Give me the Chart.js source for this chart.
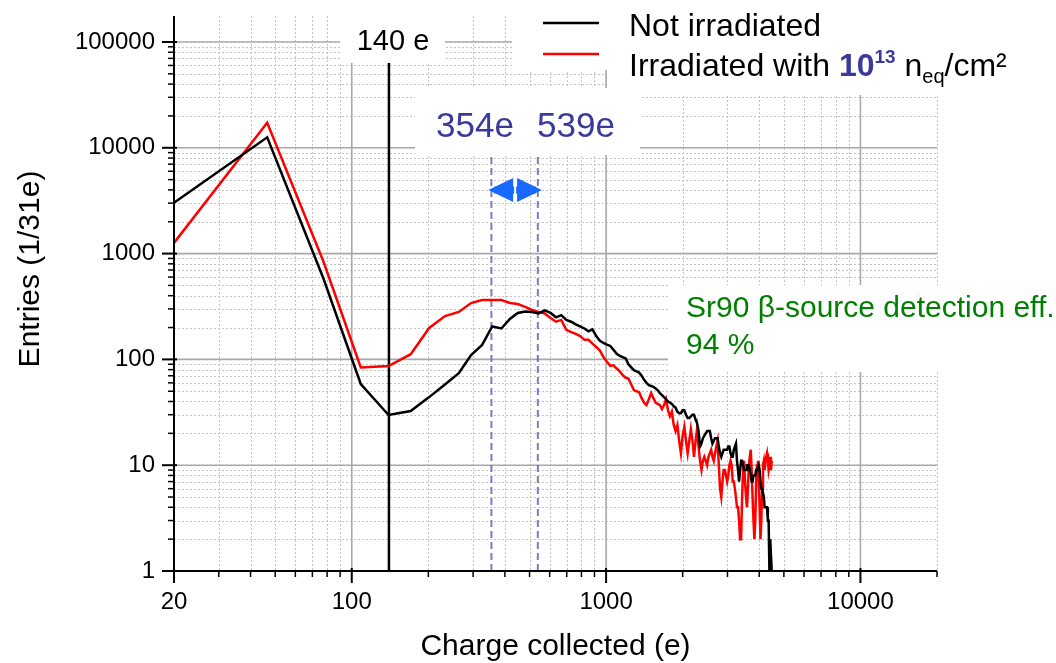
<!DOCTYPE html>
<html>
<head>
<meta charset="utf-8">
<title>Charge collected spectrum</title>
<script src="https://cdn.jsdelivr.net/npm/chart.js@4.4.1/dist/chart.umd.min.js"></script>
<style>
  body { margin: 0; background: #fff; }
  #wrap { width: 1056px; height: 663px; }
</style>
</head>
<body>
<div id="wrap"><canvas id="chart" width="1056" height="663"></canvas></div>
<script>
// ============================================
// Spectra, one value per 31 e bin (first bin centre 15.5 e)
// ============================================
const BIN_WIDTH = 31;

const notIrradiated = [
    1970, 12560, 575, 58.5, 29.8, 32.5, 44, 58, 74, 110,
    137, 205, 196, 241, 275, 284, 280, 272, 290, 275,
    250, 262, 236, 227, 214, 205, 196, 184, 192, 166,
    150, 143, 138, 134, 123, 113, 108, 105, 102, 90,
    84, 79, 77, 75, 70, 64, 60, 57, 56, 55,
    53, 51, 48, 46, 44, 42, 40, 39, 38, 36,
    35, 32, 31, 31, 33, 33, 30, 28, 28, 29,
    30, 30, 27, 25, 21, 15, 16, 18, 19, 20,
    21, 21, 21, 18, 16, 17, 18, 18, 18, 15,
    13, 12, 13, 14, 14, 14, 14, 15, 15, 13,
    12, 12, 14, 15, 16, 11, 9, 7, 9, 11,
    11, 10, 9, 9, 9, 10, 10, 10, 9, 8,
    7, 7, 8, 8, 8, 9, 9, 9, 10, 9,
    7, 6, 6, 6, 5, 4, 4, 4, 4, 3,
    3, 1, 2, 2, 1
];

const irradiated = [
    573, 17260, 832, 84, 86.5, 112, 198, 257, 281, 341,
    364, 364, 364, 341, 334, 313, 293, 281, 272, 246,
    227, 236, 190, 181, 174, 166, 153, 153, 141, 131,
    121, 105, 95, 87, 88, 82, 77, 71, 67, 66,
    58, 51, 50, 49, 43, 39, 37, 42, 48, 43,
    39, 38, 37, 34, 37, 42, 33, 29, 32, 24,
    21, 24, 17, 13, 19, 23, 17, 13, 17, 22,
    17, 12, 17, 22, 15, 11, 9, 11, 12, 11,
    10, 12, 13, 14, 12, 11, 13, 15, 17, 10,
    6, 5, 7, 9, 9, 8, 7, 8, 10, 11,
    10, 7, 7, 6, 5, 4, 4, 3, 2, 2,
    5, 9, 11, 7, 5, 4, 6, 10, 12, 14,
    9, 5, 3, 2, 3, 7, 10, 11, 7, 4,
    2, 3, 6, 10, 11, 9, 11, 12, 13, 11,
    9, 10, 12, 9, 11
];

const thresholdCharge = 140;          // vertical black marker
const peakMarkers = [354, 539];       // dashed blue markers
const peakMarkerTop = 8500;           // dashed markers stop under their label
const xTickLabels = [20, 100, 1000, 10000];
const yTickLabels = [1, 10, 100, 1000, 10000, 100000];
const xRange = [20, 20000];
const yRange = [1, 176000];

const FONT = "'Liberation Sans', Arial, sans-serif";
const NAVY = '#3a3a9c';

function toPoints(values) {
    return values.map((v, i) => ({ x: BIN_WIDTH * i + BIN_WIDTH / 2, y: v }));
}

function verticalAt(xValue, top) {
    return [{ x: xValue, y: yRange[0] }, { x: xValue, y: top }];
}

// mantissa of a log tick: 1 -> decade, 2..9 -> minor
function mantissa(v) {
    return v / Math.pow(10, Math.floor(Math.log10(v) + 1e-9));
}

function isWholeMantissa(v) {
    const m = mantissa(v);
    return Math.abs(m - Math.round(m)) < 1e-6;
}

function line(ctx, x1, y1, x2, y2) {
    ctx.beginPath();
    ctx.moveTo(x1, y1);
    ctx.lineTo(x2, y2);
    ctx.stroke();
}

/**
 * Сетка, белые подложки под подписи, подписи, оси
 */
const decor = {
    id: 'decor',
    beforeDatasetsDraw(chart) {
        const { ctx, chartArea: a, scales: { x, y } } = chart;
        ctx.save();

        // minor dotted grid
        ctx.strokeStyle = '#c4c4c4';
        ctx.lineWidth = 1;
        ctx.setLineDash([2, 2]);
        x.ticks.forEach(t => {
            if (!isWholeMantissa(t.value) || Math.round(mantissa(t.value)) === 1) return;
            const px = Math.round(x.getPixelForValue(t.value)) + 0.5;
            line(ctx, px, a.top, px, a.bottom);
        });
        y.ticks.forEach(t => {
            if (!isWholeMantissa(t.value) || Math.round(mantissa(t.value)) === 1) return;
            const py = Math.round(y.getPixelForValue(t.value)) + 0.5;
            line(ctx, a.left, py, a.right, py);
        });

        // major solid grid
        ctx.setLineDash([]);
        ctx.strokeStyle = '#a8a8a8';
        ctx.lineWidth = 1.6;
        [100, 1000, 10000].forEach(v => {
            const px = x.getPixelForValue(v);
            line(ctx, px, a.top, px, a.bottom);
        });
        [10, 100, 1000, 10000, 100000].forEach(v => {
            const py = y.getPixelForValue(v);
            line(ctx, a.left, py, a.right, py);
        });
        ctx.restore();
    },

    afterDatasetsDraw(chart) {
        const { ctx, scales: { x } } = chart;
        ctx.save();

        // white boxes behind the annotations
        ctx.fillStyle = '#ffffff';
        ctx.fillRect(340, 0, 105, 63);      // 140 e
        ctx.fillRect(512, 0, 544, 70);      // legend
        ctx.fillRect(607, 0, 449, 95);
        ctx.fillRect(415, 88, 225, 67);     // 354e 539e
        ctx.fillRect(668, 285, 388, 87);    // Sr90 text

        // 140 e
        ctx.fillStyle = '#000';
        ctx.font = `29px ${FONT}`;
        ctx.textAlign = 'center';
        ctx.textBaseline = 'alphabetic';
        ctx.fillText(`${thresholdCharge} e`, 393, 50);

        // 354e 539e
        ctx.fillStyle = NAVY;
        ctx.font = `35px ${FONT}`;
        ctx.textAlign = 'left';
        ctx.fillText(`${peakMarkers[0]}e`, 436, 137);
        ctx.fillText(`${peakMarkers[1]}e`, 537, 137);

        // double arrow between the two markers
        const l = x.getPixelForValue(peakMarkers[0]) - 3;
        const r = x.getPixelForValue(peakMarkers[1]) + 4;
        const mid = (l + r) / 2;
        const ay = 190;
        ctx.fillStyle = '#1769ff';
        ctx.fillRect(l + 6, ay - 3.5, r - l - 12, 7);
        ctx.beginPath();
        ctx.moveTo(l, ay); ctx.lineTo(mid - 2, ay - 12); ctx.lineTo(mid - 2, ay + 12); ctx.closePath();
        ctx.fill();
        ctx.beginPath();
        ctx.moveTo(r, ay); ctx.lineTo(mid + 2, ay - 12); ctx.lineTo(mid + 2, ay + 12); ctx.closePath();
        ctx.fill();
        ctx.strokeStyle = '#ffffff';
        ctx.lineWidth = 2;
        line(ctx, mid, ay - 13, mid, ay + 13);

        // Sr90 annotation
        ctx.fillStyle = '#008000';
        ctx.font = `30px ${FONT}`;
        ctx.fillText('Sr90 \u03b2-source detection eff.:', 686, 317);
        ctx.fillText('94 %', 686, 354);

        // legend
        ctx.lineWidth = 2.5;
        ctx.strokeStyle = '#000';
        line(ctx, 543, 23, 599, 23);
        ctx.strokeStyle = '#ff0000';
        line(ctx, 543, 54, 599, 54);

        ctx.fillStyle = '#000';
        ctx.font = `32px ${FONT}`;
        ctx.fillText('Not irradiated', 629, 36);

        let tx = 629;
        const base = 76;
        const part = (text, font, color, dy) => {
            ctx.font = font;
            ctx.fillStyle = color;
            ctx.fillText(text, tx, base + dy);
            tx += ctx.measureText(text).width;
        };
        part('Irradiated with ', `32px ${FONT}`, '#000', 0);
        part('10', `bold 32px ${FONT}`, NAVY, 0);
        part('13', `bold 19px ${FONT}`, NAVY, -13);
        part(' n', `32px ${FONT}`, '#000', 0);
        part('eq', `20px ${FONT}`, '#000', 7);
        part('/cm\u00b2', `32px ${FONT}`, '#000', 0);

        ctx.restore();
    },

    afterDraw(chart) {
        const { ctx, chartArea: a, scales: { x, y } } = chart;
        ctx.save();
        ctx.strokeStyle = '#000';
        ctx.lineWidth = 2;

        // axes
        line(ctx, a.left, a.top, a.left, a.bottom + 1);
        line(ctx, a.left - 1, a.bottom, a.right, a.bottom);

        // y ticks (outward)
        y.ticks.forEach(t => {
            if (!isWholeMantissa(t.value)) return;
            const big = Math.round(mantissa(t.value)) === 1;
            const py = y.getPixelForValue(t.value);
            ctx.lineWidth = big ? 2 : 1.5;
            line(ctx, a.left - (big ? 12 : 6), py, a.left + (big ? 3 : 0), py);
        });
        // x ticks (outward)
        x.ticks.forEach(t => {
            if (!isWholeMantissa(t.value)) return;
            const big = Math.round(mantissa(t.value)) === 1 || t.value === xRange[0];
            const px = x.getPixelForValue(t.value);
            ctx.lineWidth = big ? 2 : 1.5;
            line(ctx, px, a.bottom - (big ? 3 : 0), px, a.bottom + (big ? 12 : 6));
        });

        // y axis title
        ctx.fillStyle = '#000';
        ctx.font = `30px ${FONT}`;
        ctx.textAlign = 'center';
        ctx.textBaseline = 'middle';
        ctx.translate(31, 269);
        ctx.rotate(-Math.PI / 2);
        ctx.fillText('Entries (1/31e)', 0, 0);
        ctx.restore();
    }
};

const datasets = [
    {
        label: 'Not irradiated',
        data: toPoints(notIrradiated),
        borderColor: '#000000',
        borderWidth: 2.5
    },
    {
        label: 'Irradiated with 10^13 neq/cm²',
        data: toPoints(irradiated),
        borderColor: '#ff0000',
        borderWidth: 2.5
    },
    {
        label: 'threshold',
        data: verticalAt(thresholdCharge, yRange[1]),
        borderColor: '#000000',
        borderWidth: 2.5
    },
    ...peakMarkers.map(v => ({
        label: `${v}e`,
        data: verticalAt(v, peakMarkerTop),
        borderColor: 'rgba(100, 100, 190, 0.85)',
        borderWidth: 2,
        borderDash: [7, 4]
    }))
];

new Chart(document.getElementById('chart'), {
    type: 'line',
    data: { datasets },
    options: {
        responsive: false,
        animation: false,
        devicePixelRatio: 1,
        layout: { padding: { top: 16, right: 119, left: 0, bottom: 0 } },
        elements: {
            point: { radius: 0, hoverRadius: 0 },
            line: { tension: 0, fill: false }
        },
        plugins: {
            legend: { display: false },
            tooltip: { enabled: false }
        },
        scales: {
            x: {
                type: 'logarithmic',
                min: xRange[0],
                max: xRange[1],
                afterFit: s => {
                    s.height = 92;
                    s.paddingLeft = 0;
                    s.paddingRight = 0;
                },
                grid: { display: false, drawTicks: false },
                border: { display: false },
                ticks: {
                    autoSkip: false,
                    maxRotation: 0,
                    padding: 17,
                    color: '#000',
                    font: { family: FONT, size: 24 },
                    callback: v => xTickLabels.includes(v) ? String(v) : ''
                },
                title: {
                    display: true,
                    text: 'Charge collected (e)',
                    color: '#000',
                    font: { family: FONT, size: 30, lineHeight: 1 },
                    padding: { top: 0, bottom: 1 }
                }
            },
            y: {
                type: 'logarithmic',
                min: yRange[0],
                max: yRange[1],
                afterFit: s => {
                    s.width = 174;
                    s.paddingTop = 0;
                    s.paddingBottom = 0;
                },
                grid: { display: false, drawTicks: false },
                border: { display: false },
                ticks: {
                    autoSkip: false,
                    padding: 19,
                    color: '#000',
                    font: { family: FONT, size: 24 },
                    callback: v => yTickLabels.includes(v) ? String(v) : ''
                }
            }
        }
    },
    plugins: [decor]
});
</script>
</body>
</html>
